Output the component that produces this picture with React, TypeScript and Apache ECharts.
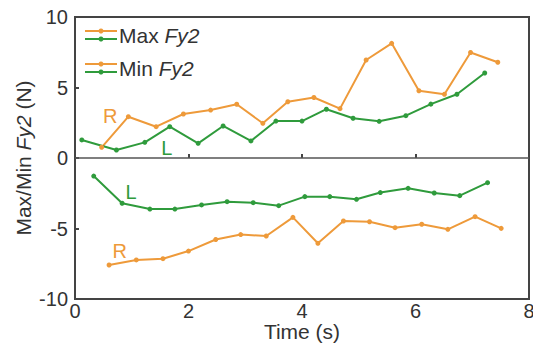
import React, { useEffect, useRef } from "react";
import * as echarts from "echarts";

// Time (s) and force (N) for each trace
const maxLTime = [0.12, 0.73, 1.23, 1.67, 2.17, 2.61, 3.1, 3.54, 4.0, 4.43, 4.9, 5.36, 5.83, 6.27, 6.73, 7.22];
const maxLForce = [1.28, 0.57, 1.11, 2.22, 1.04, 2.27, 1.21, 2.62, 2.62, 3.46, 2.82, 2.6, 3.0, 3.82, 4.52, 6.03];

const maxRTime = [0.47, 0.94, 1.43, 1.91, 2.39, 2.85, 3.31, 3.75, 4.21, 4.67, 5.13, 5.58, 6.06, 6.51, 6.97, 7.45];
const maxRForce = [0.76, 2.93, 2.22, 3.12, 3.4, 3.81, 2.46, 3.99, 4.29, 3.5, 6.95, 8.13, 4.77, 4.52, 7.48, 6.79];

const minLTime = [0.33, 0.83, 1.32, 1.76, 2.23, 2.68, 3.14, 3.59, 4.05, 4.49, 4.96, 5.38, 5.87, 6.33, 6.78, 7.27];
const minLForce = [-1.28, -3.21, -3.62, -3.62, -3.33, -3.1, -3.17, -3.38, -2.74, -2.74, -2.93, -2.45, -2.15, -2.48, -2.67, -1.75];

const minRTime = [0.6, 1.08, 1.55, 2.0, 2.48, 2.92, 3.37, 3.84, 4.28, 4.73, 5.19, 5.64, 6.11, 6.57, 7.05, 7.51];
const minRForce = [-7.59, -7.23, -7.14, -6.6, -5.78, -5.43, -5.53, -4.21, -6.05, -4.47, -4.52, -4.94, -4.7, -5.06, -4.16, -4.99];

// Side tags placed next to the traces, in data coordinates
const tagText = ["R", "L", "L", "R"];
const tagTime = [0.62, 1.62, 0.99, 0.79];
const tagForce = [2.95, 0.68, -2.38, -6.6];

const ORANGE = "#EE9A3A";
const GREEN = "#2F9B3C";
const TEXT = "#333";
const FONT = "Liberation Sans, Arial, sans-serif";

const zip = (xs: number[], ys: number[]) => xs.map((x, i) => [x, ys[i]]);

function traceSeries(name: string, xs: number[], ys: number[], color: string, tagIdx: number[]) {
  return {
    name,
    type: "line",
    data: zip(xs, ys),
    symbol: "circle",
    symbolSize: 5,
    showSymbol: true,
    lineStyle: { color, width: 2 },
    itemStyle: { color },
    markPoint: {
      silent: true,
      symbol: "circle",
      symbolSize: 1,
      itemStyle: { color: "transparent" },
      data: tagIdx.map((k) => ({
        coord: [tagTime[k], tagForce[k]],
        label: {
          show: true,
          position: "inside",
          align: "center",
          verticalAlign: "middle",
          formatter: tagText[k],
          color,
          fontSize: 20,
          fontFamily: FONT,
        },
      })),
    },
  };
}

export default function App() {
  const ref = useRef<HTMLDivElement>(null);

  useEffect(() => {
    if (!ref.current) return;
    const chart = echarts.init(ref.current, undefined, { renderer: "svg" });

    const legendRow = (y: number, label: string) => [
      { type: "line", shape: { x1: 85, y1: y - 4, x2: 117, y2: y - 4 }, style: { stroke: ORANGE, lineWidth: 2 } },
      { type: "circle", shape: { cx: 101, cy: y - 4, r: 2.5 }, style: { fill: ORANGE } },
      { type: "line", shape: { x1: 85, y1: y + 4, x2: 117, y2: y + 4 }, style: { stroke: GREEN, lineWidth: 2 } },
      { type: "circle", shape: { cx: 101, cy: y + 4, r: 2.5 }, style: { fill: GREEN } },
      {
        type: "text",
        x: 119,
        y,
        style: {
          text: `{n|${label} }{i|Fy2}`,
          verticalAlign: "middle",
          rich: {
            n: { fontSize: 21, fontFamily: FONT, fill: TEXT },
            i: { fontSize: 21, fontFamily: FONT, fontStyle: "italic", fill: TEXT },
          },
        },
      },
    ];

    chart.setOption({
      animation: false,
      backgroundColor: "#fff",
      grid: {
        left: 75,
        right: 4,
        top: 17,
        bottom: 44,
        outerBoundsMode: "none",
        containLabel: false,
        show: true,
        borderColor: "#444",
        borderWidth: 2,
        backgroundColor: "transparent",
      },
      xAxis: {
        type: "value",
        min: 0,
        max: 8,
        interval: 2,
        name: "Time (s)",
        nameLocation: "middle",
        nameGap: 22,
        nameMoveOverlap: false,
        nameTextStyle: { fontSize: 21, fontFamily: FONT, color: TEXT, lineHeight: 21 },
        axisLine: { show: false },
        axisTick: { show: true, inside: true, length: 4, lineStyle: { color: "#444", width: 2 } },
        axisLabel: { fontSize: 20, fontFamily: FONT, color: TEXT, margin: 3, lineHeight: 18 },
        splitLine: { show: false },
      },
      yAxis: {
        type: "value",
        min: -10,
        max: 10,
        interval: 5,
        name: "Max/Min {i|Fy2} (N)",
        nameLocation: "middle",
        nameGap: 41,
        nameMoveOverlap: false,
        nameRotate: 90,
        nameTextStyle: {
          fontSize: 21,
          fontFamily: FONT,
          color: TEXT,
          rich: { i: { fontSize: 21, fontFamily: FONT, fontStyle: "italic", color: TEXT } },
        },
        axisLine: { show: false },
        axisTick: { show: true, inside: true, length: 4, lineStyle: { color: "#444", width: 2 } },
        axisLabel: { fontSize: 20, fontFamily: FONT, color: TEXT, margin: 7 },
        splitLine: { show: false },
      },
      series: [
        {
          ...traceSeries("Max R", maxRTime, maxRForce, ORANGE, [0]),
          markLine: {
            silent: true,
            symbol: "none",
            label: { show: false },
            lineStyle: { color: "#555", width: 1.5, type: "solid" },
            data: [{ yAxis: 0 }],
          },
        },
        traceSeries("Max L", maxLTime, maxLForce, GREEN, [1]),
        traceSeries("Min L", minLTime, minLForce, GREEN, [2]),
        traceSeries("Min R", minRTime, minRForce, ORANGE, [3]),
      ],
      graphic: [...legendRow(35, "Max"), ...legendRow(68, "Min")],
    });

    return () => chart.dispose();
  }, []);

  return (
    <div
      ref={ref}
      style={{ position: "fixed", left: 0, top: 0, width: 533, height: 343, background: "#fff" }}
    />
  );
}
